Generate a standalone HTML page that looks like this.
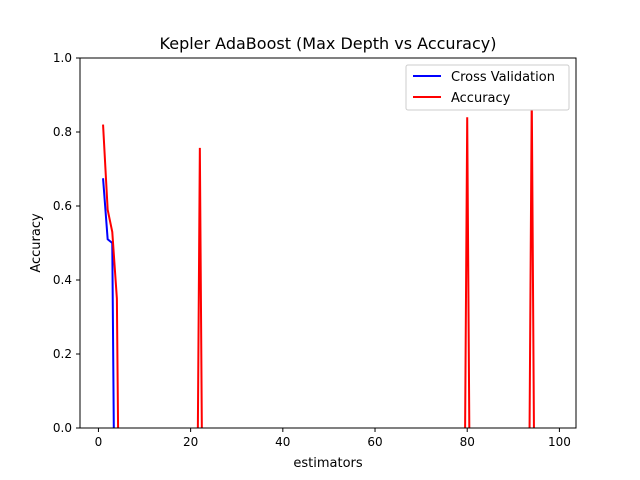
<!DOCTYPE html>
<html><head><meta charset="utf-8"><style>
html,body{margin:0;background:#fff;overflow:hidden;width:640px;height:480px}
svg{display:block;font-family:"DejaVu Sans","Liberation Sans",sans-serif}
</style></head><body>
<svg id="chart" width="640" height="480">
<rect width="640" height="480" fill="#fff"/>
<defs><clipPath id="clip"><rect x="80" y="58" width="496" height="370"/></clipPath></defs>
<text x="328" y="49" font-size="16" text-anchor="middle">Kepler AdaBoost (Max Depth vs Accuracy)</text>
<g id="series" clip-path="url(#clip)"></g>
<g id="axes"></g>
<text x="328" y="467" font-size="13" text-anchor="middle">estimators</text>
<text transform="translate(40,243) rotate(-90)" font-size="13" text-anchor="middle">Accuracy</text>
<g>
<rect x="406" y="65" width="163" height="45" fill="#fff" stroke="#ccc" rx="2"/>
<line x1="413" y1="76" x2="441" y2="76" stroke="#0000ff" stroke-width="2"/>
<text x="451" y="81" font-size="13">Cross Validation</text>
<line x1="413" y1="97" x2="441" y2="97" stroke="#ff0000" stroke-width="2"/>
<text x="451" y="102" font-size="13">Accuracy</text>
</g>
</svg>
<script>
const xs = [];
for (let i = 1; i <= 99; i++) xs.push(i);
const baseValue = -1;
const cvSpikes = [[1,0.675],[2,0.51],[3,0.50]];
const accSpikes = [[1,0.82],[2,0.59],[3,0.53],[4,0.35],[22,0.757],[80,0.84],[94,0.9]];
const xTicks = [0,20,40,60,80,100];
const yTicks = [0,0.2,0.4,0.6,0.8,1.0];
const yTickLabels = ["0.0","0.2","0.4","0.6","0.8","1.0"];

const L=80,R=576,T=58,B=428,XMIN=-4.0,XMAX=103.6;
const sx=v=>L+(v-XMIN)/(XMAX-XMIN)*(R-L);
const sy=v=>B-v*(B-T);
const NS="http://www.w3.org/2000/svg";
function series(spikes){const m={};spikes.forEach(p=>m[p[0]]=p[1]);return xs.map(x=>[x,m[x]!==undefined?m[x]:baseValue]);}
const cv=series(cvSpikes), acc=series(accSpikes);
const sg=document.getElementById('series');
[[cv,'#0000ff','cross-validation-line'],[acc,'#ff0000','accuracy-line']].forEach(([d,c,n])=>{
 const p=document.createElementNS(NS,'path');
 p.setAttribute('d',d.map((q,i)=>(i?'L':'M')+sx(q[0]).toFixed(2)+','+sy(q[1]).toFixed(2)).join(''));
 p.setAttribute('fill','none');p.setAttribute('stroke',c);p.setAttribute('stroke-width','2');
 
 
 sg.appendChild(p);
});
const ag=document.getElementById('axes');
const fr=document.createElementNS(NS,'rect');
fr.setAttribute('x',L);fr.setAttribute('y',T);fr.setAttribute('width',R-L);fr.setAttribute('height',B-T);
fr.setAttribute('fill','none');fr.setAttribute('stroke','#000');fr.setAttribute('stroke-width','1');


ag.appendChild(fr);
xTicks.forEach(t=>{
 const x=sx(t);
 const l=document.createElementNS(NS,'line');
 l.setAttribute('x1',x);l.setAttribute('x2',x);l.setAttribute('y1',B);l.setAttribute('y2',B+4);l.setAttribute('stroke','#000');
 
 
 ag.appendChild(l);
 const tx=document.createElementNS(NS,'text');
 tx.setAttribute('x',x);tx.setAttribute('y',B+18);tx.setAttribute('font-size','12');tx.setAttribute('text-anchor','middle');
 tx.textContent=t;
 
 
 ag.appendChild(tx);
});
yTicks.forEach((t,i)=>{
 const y=sy(t);
 const l=document.createElementNS(NS,'line');
 l.setAttribute('x1',L-4);l.setAttribute('x2',L);l.setAttribute('y1',y);l.setAttribute('y2',y);l.setAttribute('stroke','#000');
 
 
 ag.appendChild(l);
 const tx=document.createElementNS(NS,'text');
 tx.setAttribute('x',L-8);tx.setAttribute('y',y+4);tx.setAttribute('font-size','12');tx.setAttribute('text-anchor','end');
 tx.textContent=yTickLabels[i];
 
 
 ag.appendChild(tx);
});
</script>
</body></html>
